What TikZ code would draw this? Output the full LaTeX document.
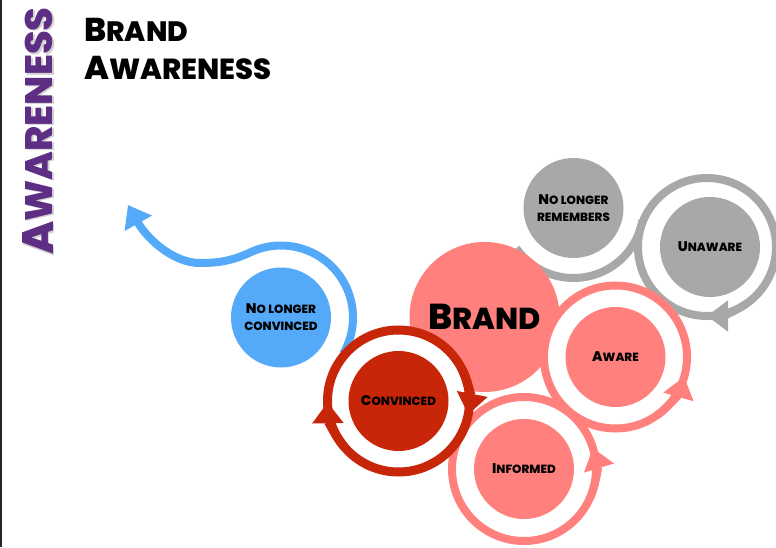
\documentclass[tikz,border=0pt]{standalone}
\usepackage{fontspec}
\IfFontExistsTF{Poppins ExtraBold}
  {\setmainfont{Poppins}[BoldFont={Poppins ExtraBold}]}
  {\setmainfont{Poppins}}
\usetikzlibrary{arrows.meta}

\definecolor{fadegray}{HTML}{A7A9A8}
\definecolor{brandpink}{HTML}{FF807C}
\definecolor{convred}{HTML}{C72609}
\definecolor{lostblue}{HTML}{54A9F8}
\definecolor{awpurple}{HTML}{5E2E84}

\newcommand{\fsc}[3][.85]{#2\scalebox{#1}{#3}}

\begin{document}
\begin{tikzpicture}
  [x=1pt, y=1pt, >={Triangle[length=21pt,width=30pt]},
   st/.style={circle, inner sep=0pt, minimum size=100pt, align=center, text=black,
     font=\bfseries\fontsize{14}{17}\selectfont},
   rg/.style={circle, inner sep=0pt, fill=white, line width=8pt},
   fl/.style={line width=8pt},
   ttl/.style={anchor=base west, inner sep=0pt, font=\bfseries\fontsize{33}{38}\selectfont}]
  \fill[white] (0,0) rectangle (776,547);
  \useasboundingbox (0,0) rectangle (776,547);
  \draw[line width=1.5pt, black!85] (0.75,0) -- (0.75,547);

  % titles
  \node[rotate=90, anchor=base, inner sep=0pt, text=black!40, opacity=.45,
    font=\bfseries\fontsize{44}{44}\selectfont] (vs) at (54.5,414.5) {\fsc[.87]{A}{WARENESS}};
  \node[rotate=90, anchor=base, inner sep=0pt, text=awpurple,
    font=\bfseries\fontsize{44}{44}\selectfont] (v) at (53,416) {\fsc[.87]{A}{WARENESS}};
  \node[ttl] (t1) at (84,505) {\fsc{B}{RAND}};
  \node[ttl] (t2) at (84,467) {\fsc[.88]{A}{WARENESS}};

  % no longer convinced
  \node[st, fill=lostblue] (5) at (281,229.5) {\fsc{N}{O LONGER}\\\scalebox{.85}{CONVINCED}};
  \coordinate (e) at (128,342);
  \draw[fl, lostblue, ->] (5.center) ++(-30:72) arc[start angle=-30, end angle=115, radius=72]
    .. controls (232,286) and (218,284) .. (200,284)
    .. controls (172,284) and (146,310) .. (e);

  % no longer remembers -> unaware
  \node[st, fill=fadegray] (6) at (573.5,339) {\fsc{N}{O LONGER}\\\scalebox{.85}{REMEMBERS}};
  \draw[fl, fadegray] (6.center) ++(215:70) arc[start angle=215, end angle=350, radius=70];
  \node[rg, draw=fadegray, minimum size=138pt] (r1) at (707,300) {};
  \draw[fl, fadegray, ->] (r1.center) ++(305:69) arc[start angle=305, end angle=270, radius=69];
  \node[st, fill=fadegray] (1) at (710,300) {\fsc{U}{NAWARE}};

  % brand
  \node[circle, inner sep=0pt, minimum size=150pt, fill=brandpink,
    font=\bfseries\fontsize{36}{36}\selectfont] (7) at (484.5,230) {\fsc[.84]{B}{RAND}};

  % aware
  \node[rg, draw=brandpink, minimum size=143pt] (r2) at (615.5,190) {};
  \draw[fl, brandpink, ->] (r2.center) ++(-55:71.5) arc[start angle=-55, end angle=-16, radius=71.5];
  \node[st, fill=brandpink] (2) at (r2) {\fsc{A}{WARE}};

  % informed
  \node[rg, draw=brandpink, minimum size=144pt] (r3) at (524,78) {};
  \draw[fl, brandpink, ->] (r3.center) ++(-25:72) arc[start angle=-25, end angle=17, radius=72];
  \node[st, fill=brandpink] (3) at (r3) {\fsc{I}{NFORMED}};

  % convinced
  \node[rg, draw=convred, line width=9pt, minimum size=142pt] (r4) at (398.5,146) {};
  \draw[fl, line width=9pt, convred, ->] (r4.center) ++(25:71) arc[start angle=25, end angle=-11, radius=71];
  \draw[fl, line width=9pt, convred, ->] (r4.center) ++(220:71) arc[start angle=220, end angle=181, radius=71];
  \node[st, fill=convred] (4) at (r4) {\fsc{C}{ONVINCED}};
\end{tikzpicture}
\end{document}
